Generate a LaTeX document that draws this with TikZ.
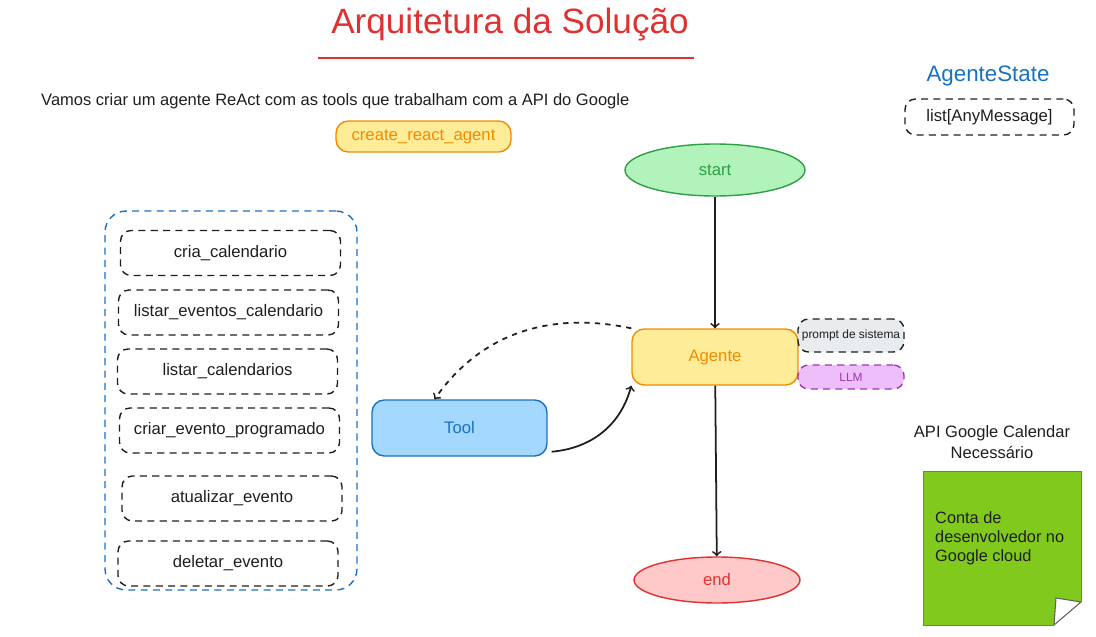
\documentclass[tikz,border=0pt]{standalone}
\usepackage{fontspec}
\setmainfont{Liberation Sans}
\usetikzlibrary{arrows,shapes.geometric}

\definecolor{redx}{HTML}{E03131}
\definecolor{orangex}{HTML}{F08C00}
\definecolor{yellowfill}{HTML}{FFEC99}
\definecolor{bluex}{HTML}{1971C2}
\definecolor{bluefill}{HTML}{A5D8FF}
\definecolor{greenx}{HTML}{2F9E44}
\definecolor{greenfill}{HTML}{B2F2BB}
\definecolor{redfill}{HTML}{FFC9C9}
\definecolor{grayfill}{HTML}{E9ECEF}
\definecolor{purplex}{HTML}{9C36B5}
\definecolor{purplefill}{HTML}{EEBEFA}
\definecolor{notegreen}{HTML}{82C91E}
\definecolor{darkx}{HTML}{1E1E1E}

\begin{document}
\begin{tikzpicture}[x=0.02cm,y=-0.02cm,
    txt/.style={font=\fontsize{9.5}{11}\selectfont},
    dashbox/.style={draw=darkx,line width=0.8pt,dash pattern=on 4pt off 3pt,rounded corners=6pt,inner sep=0pt,txt},
    toolbox/.style={dashbox,minimum width=4.4cm,minimum height=0.9cm},
    solidbox/.style={line width=0.8pt,rounded corners=7pt,inner sep=0pt,txt},
    flow/.style={draw=darkx,line width=1pt,->}]

\useasboundingbox (0,0) rectangle (1096,636);

\node[text=redx,font=\fontsize{20}{23}\selectfont] (title) at (510,24) {Arquitetura da Solução};
\coordinate (ul1) at (318,58);
\coordinate (ul2) at (694,58);
\draw[redx,line width=1.2pt] (ul1) -- (ul2);

\node[anchor=west,text=darkx,font=\fontsize{9.4}{11}\selectfont] (intro) at (35,101) {Vamos criar um agente ReAct com as tools que trabalham com a API do Google};
\node[solidbox,draw=orangex,fill=yellowfill,text=orangex,minimum width=3.5cm,minimum height=0.62cm] (react) at (423.5,136.5) {create\_react\_agent};

\node[text=bluex,font=\fontsize{12.7}{15}\selectfont] (state) at (988,76) {AgenteState};
\node[dashbox,minimum width=3.38cm,minimum height=0.72cm,text=darkx] (msgs) at (989.5,117) {list[AnyMessage]};

\node[draw=bluex,line width=0.8pt,dash pattern=on 4pt off 3pt,rounded corners=12pt,minimum width=5.04cm,minimum height=7.58cm] (grp) at (231,400.5) {};
\foreach \x/\y/\t/\n in {230.5/253/cria\_calendario/1,228.5/312.5/listar\_eventos\_calendario/2,227.5/371.5/listar\_calendarios/3,229.5/430.5/criar\_evento\_programado/4,232/498.5/atualizar\_evento/5,228/563.5/deletar\_evento/6}
    \node[toolbox,text=darkx] (t\n) at (\x,\y) {\t};

\node[ellipse,draw=greenx,fill=greenfill,line width=0.8pt,minimum width=3.6cm,minimum height=1.04cm,text=greenx,txt] (start) at (715,170) {start};
\node[solidbox,draw=orangex,fill=yellowfill,text=orangex,minimum width=3.32cm,minimum height=1.12cm] (agente) at (715,357) {Agente};
\node[dashbox,fill=grayfill,minimum width=2.12cm,minimum height=0.66cm,text=darkx,font=\fontsize{6.8}{8}\selectfont] (prompt) at (851,335.5) {prompt de sistema};
\node[dashbox,draw=purplex,fill=purplefill,minimum width=2.12cm,minimum height=0.48cm,text=purplex,font=\fontsize{6.8}{8}\selectfont] (llm) at (851,377) {LLM};
\node[ellipse,draw=redx,fill=redfill,line width=0.8pt,minimum width=3.32cm,minimum height=0.92cm,text=redx,txt] (end) at (717,580) {end};
\node[solidbox,draw=bluex,fill=bluefill,text=bluex,minimum width=3.5cm,minimum height=1.12cm] (tool) at (459.5,428) {Tool};

\draw[flow] (start) -- (agente);
\draw[flow] (agente) -- (end);
\draw[flow,dashed] (agente.north west) to[out=168,in=55] ([xshift=-0.5cm]tool.north);
\draw[flow] ([xshift=0.08cm,yshift=0.1cm]tool.south east) to[out=5,in=-105] (agente.south west);

\node[align=center,text=darkx,font=\fontsize{9.4}{11.5}\selectfont] (api) at (992,442) {API Google Calendar\\Necessário};
\fill[notegreen] (923,471) -- (1081,471) -- (1081,602) -- (1054,625) -- (923,625) -- cycle;
\draw[darkx!70,line width=0.6pt,fill=white] (1056,598) -- (1081,602) -- (1054,625) -- cycle;
\draw[darkx!60,line width=0.4pt] (1054,625) -- (923,625) -- (923,471) -- (1081,471) -- (1081,602);
\node[anchor=north west,align=left,text=darkx,font=\fontsize{9.3}{11}\selectfont] (conta) at (929,505) {Conta de\\desenvolvedor no\\Google cloud};

\end{tikzpicture}
\end{document}
